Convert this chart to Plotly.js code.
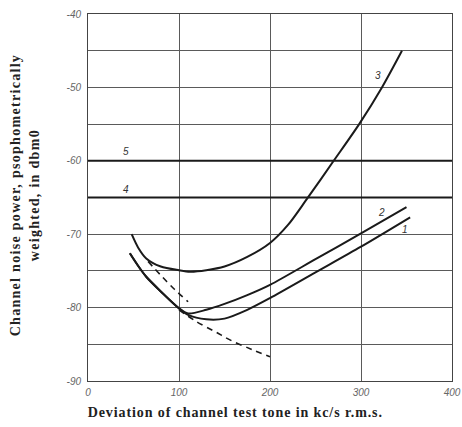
<!DOCTYPE html>
<html>
<head>
<meta charset="utf-8">
<script src="https://cdn.plot.ly/plotly-3.0.1.min.js"></script>
<style>
html,body{margin:0;padding:0;background:#fff;}
#chart{width:462px;height:427px;}
#chart .ytitle-ann text{letter-spacing:1.3px;}
#chart .xtitle-ann text{letter-spacing:0.9px;}
</style>
</head>
<body>
<div id="chart"></div>
<script>
// Curve 1
const c1x = [46, 55, 64, 80, 100, 110, 130, 150, 175, 200, 250, 300, 354];
const c1y = [-72.6, -74.3, -75.8, -77.8, -80.1, -81.0, -81.6, -81.5, -80.3, -78.7, -75.2, -71.7, -67.7];
// Curve 2
const c2x = [46, 55, 64, 80, 100, 110, 130, 150, 175, 200, 250, 300, 350];
const c2y = [-72.6, -74.3, -75.8, -77.8, -80.1, -80.8, -80.3, -79.5, -78.3, -76.9, -73.4, -69.9, -66.3];
// Curve 3
const c3x = [48, 55, 64, 80, 100, 112, 130, 150, 175, 200, 220, 240, 270, 298, 323, 345];
const c3y = [-70.0, -71.8, -73.3, -74.4, -74.9, -75.1, -74.9, -74.4, -73.1, -71.2, -68.7, -65.3, -60.0, -55.0, -50.0, -45.0];
// Horizontal lines 4 and 5
const l4x = [0, 400];
const l4y = [-65, -65];
const l5x = [0, 400];
const l5y = [-60, -60];
// Dashed extrapolations
const d1x = [66, 80, 95, 110];
const d1y = [-73.7, -75.6, -77.5, -79.2];
const d2x = [100, 119, 140, 156, 180, 200];
const d2y = [-80.3, -81.9, -83.3, -84.4, -85.7, -86.7];
// Curve labels
const labText = ['1', '2', '3', '4', '5'];
const labX = [348, 323, 319, 42, 42];
const labY = [-69.4, -67.0, -48.4, -63.9, -58.8];
// Axis ticks
const xTickVals = [0, 100, 200, 300, 400];
const xTickText = ['0', '100', '200', '300', '400'];
const yTickVals = [-90, -85, -80, -75, -70, -65, -60, -55, -50, -45, -40];
const yTickText = ['-90', '', '-80', '', '-70', '', '-60', '', '-50', '', '-40'];
// Titles
const xTitle = 'Deviation of channel test tone in kc/s r.m.s.';
const yTitle = 'Channel noise power, psophometrically<br>weighted, in dbm0';

const solid = {color: '#1a1a1a', width: 2, shape: 'spline', smoothing: 0.8};
const dashed = {color: '#1a1a1a', width: 1.6, dash: '6px,5px', shape: 'spline'};
const traces = [
  {x: c1x, y: c1y, mode: 'lines', line: solid},
  {x: c2x, y: c2y, mode: 'lines', line: solid},
  {x: c3x, y: c3y, mode: 'lines', line: solid},
  {x: l4x, y: l4y, mode: 'lines', line: {color: '#1a1a1a', width: 2}},
  {x: l5x, y: l5y, mode: 'lines', line: {color: '#1a1a1a', width: 2}},
  {x: d1x, y: d1y, mode: 'lines', line: dashed},
  {x: d2x, y: d2y, mode: 'lines', line: dashed}
];

const annotations = labText.map((t, i) => ({
  x: labX[i], y: labY[i], text: t, showarrow: false,
  font: {family: 'Liberation Sans', size: 10, style: 'italic', color: '#333'}
}));
annotations.push({
  xref: 'paper', yref: 'paper', x: 0.404, y: -0.0845, xanchor: 'center', yanchor: 'middle',
  text: xTitle, showarrow: false, name: 'xt',
  font: {family: 'Liberation Serif', size: 14, weight: 'bold', color: '#222'}
});
annotations.push({
  xref: 'paper', yref: 'paper', x: -0.172, y: 0.507, xanchor: 'center', yanchor: 'middle',
  text: yTitle, showarrow: false, textangle: -90, name: 'yt',
  font: {family: 'Liberation Serif', size: 14, weight: 'bold', color: '#222'}
});

const layout = {
  width: 462, height: 427,
  margin: {l: 88, r: 10, t: 14, b: 46},
  paper_bgcolor: '#fff', plot_bgcolor: '#fff',
  showlegend: false,
  xaxis: {
    range: [0, 400], tickvals: xTickVals, ticktext: xTickText,
    showgrid: true, gridcolor: '#5a5a5a', gridwidth: 1,
    zeroline: false, showline: true, linecolor: '#444', linewidth: 1, mirror: true,
    ticks: '', ticklabelstandoff: 2,
    tickfont: {family: 'Liberation Sans', size: 10, style: 'italic', color: '#666'}
  },
  yaxis: {
    range: [-90, -40], tickvals: yTickVals, ticktext: yTickText,
    showgrid: true, gridcolor: '#5a5a5a', gridwidth: 1,
    zeroline: false, showline: true, linecolor: '#444', linewidth: 1, mirror: true,
    ticks: '', ticklabelstandoff: 4,
    tickfont: {family: 'Liberation Sans', size: 10, style: 'italic', color: '#666'}
  },
  annotations: annotations
};

Plotly.newPlot('chart', traces, layout, {displayModeBar: false, staticPlot: true}).then(gd => {
  const anns = gd.querySelectorAll('.annotation');
  const n = anns.length;
  if (n >= 2) {
    anns[n - 2].classList.add('xtitle-ann');
    anns[n - 1].classList.add('ytitle-ann');
  }
});
</script>
</body>
</html>
